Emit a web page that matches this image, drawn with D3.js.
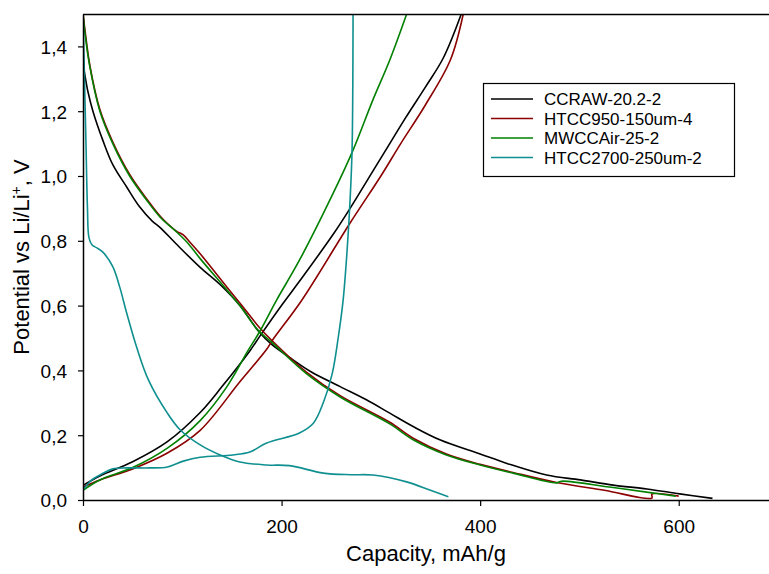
<!DOCTYPE html>
<html>
<head>
<meta charset="utf-8">
<script src="https://cdn.jsdelivr.net/npm/d3@7"></script>
<style>
  body { margin: 0; background: #fff; }
  svg { font-family: Arial, "Liberation Sans", sans-serif; }
</style>
</head>
<body>
<div class="chart"></div>
<script>
// Values: [capacity mAh/g, potential V]
var ccrawDischarge = [[0,1.38],[1,1.33],[2,1.31],[5,1.26],[10,1.2],[20,1.11],[30,1.035],[44,0.966],[57,0.905],[70,0.86],[78,0.84],[94,0.79],[118,0.718],[138,0.665],[158,0.6],[177,0.52],[190,0.48],[208,0.44],[230,0.395],[259,0.35],[285,0.31],[309,0.268],[333,0.226],[360,0.185],[400,0.142],[427,0.113],[467,0.077],[501,0.062],[534,0.046],[568,0.034],[601,0.019],[634,0.005]];
var ccrawCharge = [[0,0.045],[17,0.074],[50,0.118],[85,0.18],[118,0.27],[140,0.35],[168,0.46],[178,0.505],[201,0.605],[218,0.675],[252,0.82],[269,0.9],[286,0.985],[304,1.075],[325,1.18],[345,1.275],[363,1.365],[381,1.5]];

var htcc950Discharge = [[0,1.5],[2,1.45],[7,1.34],[17,1.205],[30,1.105],[47,1.005],[64,0.93],[78,0.875],[94,0.83],[101,0.818],[108,0.795],[118,0.76],[145,0.657],[160,0.6],[177,0.535],[191,0.49],[225,0.395],[259,0.322],[309,0.24],[333,0.19],[366,0.142],[400,0.11],[433,0.085],[477,0.054],[525,0.03],[573,0.006],[573,0.018],[600,0.012]];
var htcc950Charge = [[0,0.04],[17,0.062],[50,0.096],[85,0.145],[118,0.215],[158,0.365],[185,0.465],[191,0.494],[220,0.615],[269,0.855],[300,1.0],[320,1.1],[345,1.22],[370,1.358],[383,1.5]];

var mwccDischarge = [[0,1.5],[2,1.44],[7,1.335],[17,1.2],[30,1.1],[47,1.0],[64,0.926],[78,0.872],[94,0.828],[105,0.795],[118,0.745],[145,0.648],[158,0.6],[176,0.525],[191,0.484],[225,0.39],[259,0.318],[309,0.235],[333,0.185],[366,0.139],[400,0.108],[433,0.083],[477,0.053],[482,0.058],[530,0.04],[573,0.022],[597,0.012]];
var mwccCharge = [[0,0.03],[17,0.062],[50,0.1],[85,0.16],[118,0.245],[145,0.35],[166,0.46],[178,0.52],[195,0.617],[218,0.74],[252,0.947],[272,1.08],[292,1.235],[309,1.358],[326,1.5]];

var htcc2700Discharge = [[0,1.5],[1.5,1.3],[3,1.1],[4.5,0.9],[6,0.81],[9,0.788],[14,0.778],[20,0.765],[30,0.72],[37,0.657],[44,0.577],[54,0.472],[66,0.37],[85,0.268],[98,0.216],[118,0.17],[138,0.139],[158,0.117],[185,0.108],[208,0.106],[242,0.083],[270,0.078],[292,0.077],[326,0.056],[350,0.03],[368,0.01]];
var htcc2700Charge = [[0,0.03],[8,0.06],[17,0.077],[30,0.096],[44,0.099],[67,0.099],[85,0.102],[101,0.12],[118,0.132],[151,0.139],[168,0.148],[185,0.176],[218,0.207],[232,0.237],[242,0.3],[251,0.39],[257,0.5],[262,0.617],[266,0.77],[269,0.926],[271,1.08],[272,1.5]];

var seriesNames = ["CCRAW-20.2-2", "HTCC950-150um-4", "MWCCAir-25-2", "HTCC2700-250um-2"];
var seriesColors = ["#000000", "#8b0000", "#008000", "#0f8f8f"];
var seriesCurves = [
    [ccrawDischarge, ccrawCharge],
    [htcc950Discharge, htcc950Charge],
    [mwccDischarge, mwccCharge],
    [htcc2700Discharge, htcc2700Charge]
];

var xTicks = [0, 200, 400, 600];
var yTicks = [0, 0.2, 0.4, 0.6, 0.8, 1.0, 1.2, 1.4];

var width = 769, height = 574;
var margin = {top: 14, left: 83};
var plotH = 486;

var svg = d3.select("div.chart")
    .append("svg")
    .attr("width", width)
    .attr("height", height);

var x = d3.scaleLinear().domain([0, 700]).range([margin.left, margin.left + 695]);
var y = d3.scaleLinear().domain([0, 1.5]).range([margin.top + plotH, margin.top]);

svg.append("clipPath")
    .attr("id", "plotclip")
    .append("rect")
    .attr("x", margin.left)
    .attr("y", margin.top)
    .attr("width", 700)
    .attr("height", plotH);

var line = d3.line()
    .x(function (d) { return x(d[0]); })
    .y(function (d) { return y(d[1]); })
    .curve(d3.curveCatmullRom.alpha(0.5));

var curves = svg.append("g").attr("clip-path", "url(#plotclip)");
seriesCurves.forEach(function (pair, i) {
    pair.forEach(function (pts) {
        curves.append("path")
            .attr("d", line(pts))
            .attr("fill", "none")
            .attr("stroke", seriesColors[i])
            .attr("stroke-width", 1.6);
    });
});

// top frame line
svg.append("line")
    .attr("x1", margin.left).attr("x2", width)
    .attr("y1", margin.top + 0.5).attr("y2", margin.top + 0.5)
    .attr("stroke", "#000").attr("stroke-width", 1.5);

var fmt = function (d) { return d3.format(".1f")(d).replace(".", ","); };

var xAxis = svg.append("g")
    .attr("transform", "translate(0," + (margin.top + plotH) + ")")
    .call(d3.axisBottom(x).tickValues(xTicks).tickSize(6).tickSizeOuter(0));

var yAxis = svg.append("g")
    .attr("transform", "translate(" + margin.left + ",0)")
    .call(d3.axisLeft(y).tickValues(yTicks).tickFormat(fmt).tickSize(5).tickSizeOuter(0).tickPadding(11));

[xAxis, yAxis].forEach(function (ax) {
    ax.selectAll("path.domain").attr("stroke", "#000").attr("stroke-width", 1.5);
    ax.selectAll(".tick line").attr("stroke", "#000").attr("stroke-width", 1.2);
    ax.selectAll(".tick text")
        .attr("fill", "#000")
        .style("font-size", "19px")
        .style("font-family", "Arial, 'Liberation Sans', sans-serif");
});
xAxis.selectAll(".tick text").attr("y", 33).attr("dy", 0);
yAxis.selectAll(".tick text").attr("dy", "0.36em");

// axis titles
svg.append("text")
    .attr("x", 426)
    .attr("y", 561)
    .attr("text-anchor", "middle")
    .style("font-size", "22px")
    .text("Capacity, mAh/g");

var yTitle = svg.append("text")
    .attr("transform", "translate(29,257) rotate(-90)")
    .attr("text-anchor", "middle")
    .style("font-size", "22px");
yTitle.append("tspan").text("Potential vs Li/Li");
yTitle.append("tspan").attr("baseline-shift", "super").style("font-size", "14px").text("+");
yTitle.append("tspan").text(", V");

// legend
var legend = svg.append("g");
legend.append("rect")
    .attr("x", 483.5).attr("y", 83.5)
    .attr("width", 251).attr("height", 93)
    .attr("fill", "#fff")
    .attr("stroke", "#000").attr("stroke-width", 1.2);

seriesNames.forEach(function (name, i) {
    var ly = 99 + i * 19.5;
    legend.append("line")
        .attr("x1", 491).attr("x2", 533)
        .attr("y1", ly).attr("y2", ly)
        .attr("stroke", seriesColors[i]).attr("stroke-width", 1.6);
    legend.append("text")
        .attr("x", 544).attr("y", ly)
        .attr("dy", "0.36em")
        .style("font-size", "17px")
        .text(name);
});
</script>
</body>
</html>
